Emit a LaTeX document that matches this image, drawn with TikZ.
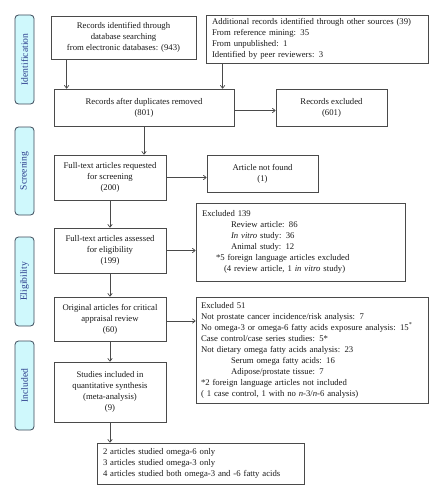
\documentclass[tikz,border=0pt]{standalone}
\usepackage{fontspec}
\setmainfont{Liberation Serif}
\usetikzlibrary{arrows.meta,calc}
\definecolor{boxgray}{HTML}{4A4A4A}
\definecolor{stagefill}{HTML}{CFF8FC}
\definecolor{stageedge}{HTML}{3C4A5A}
\definecolor{stagetext}{HTML}{2A3C8C}
\tikzset{
  x=1pt,y=-1pt,
  fbox/.style={draw=boxgray,line width=0.8pt,inner sep=0pt,align=center,text=black!90,
    font=\fontsize{8.7}{11}\selectfont},
  lbox/.style={fbox,align=left},
  stage/.style={draw=stageedge,fill=stagefill,line width=0.8pt,rounded corners=3.5pt,
    minimum width=19pt,inner sep=0pt,text=stagetext,font=\fontsize{9.6}{10}\selectfont},
  arr/.style={draw=boxgray,line width=0.7pt,-{To[length=3.5pt,width=5pt]}}
}
\begin{document}
\begin{tikzpicture}
\useasboundingbox (0,0) rectangle (443,500);
% stage labels
\node[stage,minimum height=89pt] (sid) at (24.5,59.5) {\rotatebox{90}{Identification}};
\node[stage,minimum height=88pt] (ssc) at (24.5,171) {\rotatebox{90}{Screening}};
\node[stage,minimum height=89pt] (sel) at (24.5,281.5) {\rotatebox{90}{Eligibility}};
\node[stage,minimum height=89pt] (sin) at (24.5,385.5) {\rotatebox{90}{Included}};
% boxes
\node[fbox,minimum width=145pt,minimum height=43pt] (id1) at (123.5,37.5)
  {Records identified through\\database searching\\from electronic databases: (943)};
\node[lbox,minimum width=222pt,minimum height=48pt,text width=210pt] (add) at (317,39)
  {Additional records identified through other sources (39)\\From reference mining: 35\\From unpublished: 1\\Identified by peer reviewers: 3};
\node[fbox,minimum width=180pt,minimum height=37pt] (dup) at (144,107.5)
  {Records after duplicates removed\\(801)};
\node[fbox,minimum width=111pt,minimum height=37pt] (exc1) at (331.5,107.5)
  {Records excluded\\(601)};
\node[fbox,minimum width=112pt,minimum height=45pt] (ftr) at (110,177.5)
  {Full-text articles requested\\for screening\\(200)};
\node[fbox,minimum width=111pt,minimum height=37pt] (anf) at (262.5,173.5)
  {Article not found\\(1)};
\node[fbox,minimum width=112pt,minimum height=45pt] (fta) at (110,250.5)
  {Full-text articles assessed\\for eligibility\\(199)};
\node[lbox,minimum width=209pt,minimum height=78pt,text width=197pt] (ex139) at (300.5,242)
  {Excluded 139\\
   \hspace*{29pt}Review article: 86\\
   \hspace*{29pt}\textit{In vitro} study: 36\\
   \hspace*{29pt}Animal study: 12\\
   \hspace*{14pt}{*}5 foreign language articles excluded\\
   \hspace*{22pt}(4 review article, 1 \textit{in vitro} study)};
\node[fbox,minimum width=112pt,minimum height=44pt] (orig) at (110,319)
  {Original articles for critical\\appraisal review\\(60)};
\node[lbox,minimum width=232pt,minimum height=106pt,text width=222pt] (ex51) at (312,350)
  {Excluded 51\\
   Not prostate cancer incidence/risk analysis: 7\\
   No omega-3 or omega-6 fatty acids exposure analysis: 15\textsuperscript{*}\\
   Case control/case series studies: 5*\\
   Not dietary omega fatty acids analysis: 23\\
   \hspace*{30pt}Serum omega fatty acids: 16\\
   \hspace*{30pt}Adipose/prostate tissue: 7\\
   {*}2 foreign language articles not included\\
   ( 1 case control, 1 with no \textit{n}-3/\textit{n}-6 analysis)};
\node[fbox,minimum width=112pt,minimum height=60pt] (inc) at (110,392)
  {Studies included in\\quantitative synthesis\\(meta-analysis)\\(9)};
\node[lbox,minimum width=207pt,minimum height=41pt,text width=195pt] (fin) at (200.5,463.5)
  {2 articles studied omega-6 only\\3 articles studied omega-3 only\\4 articles studied both omega-3 and -6 fatty acids};
% connectors
\draw[arr] ([xshift=16pt]id1.south west) -- ([xshift=16pt]id1.south west |- dup.north);
\draw[arr] ([xshift=17pt]add.south west) -- ([xshift=17pt]add.south west |- dup.north);
\draw[arr] ([yshift=-3pt]dup.east) -- ([yshift=-3pt]dup.east -| exc1.west);
\draw[arr] (dup.south) -- (dup.south |- ftr.north);
\draw[arr] (ftr.east) -- (ftr.east -| anf.west);
\draw[arr] (ftr.south) -- (fta.north);
\draw[arr] (fta.east) -- (fta.east -| ex139.west);
\draw[arr] (fta.south) -- (orig.north);
\draw[arr] ([yshift=-2pt]orig.east) -- ([yshift=-2pt]orig.east -| ex51.west);
\draw[arr] (orig.south) -- (inc.north);
\draw[arr] (inc.south) -- (inc.south |- fin.north);
\end{tikzpicture}
\end{document}
